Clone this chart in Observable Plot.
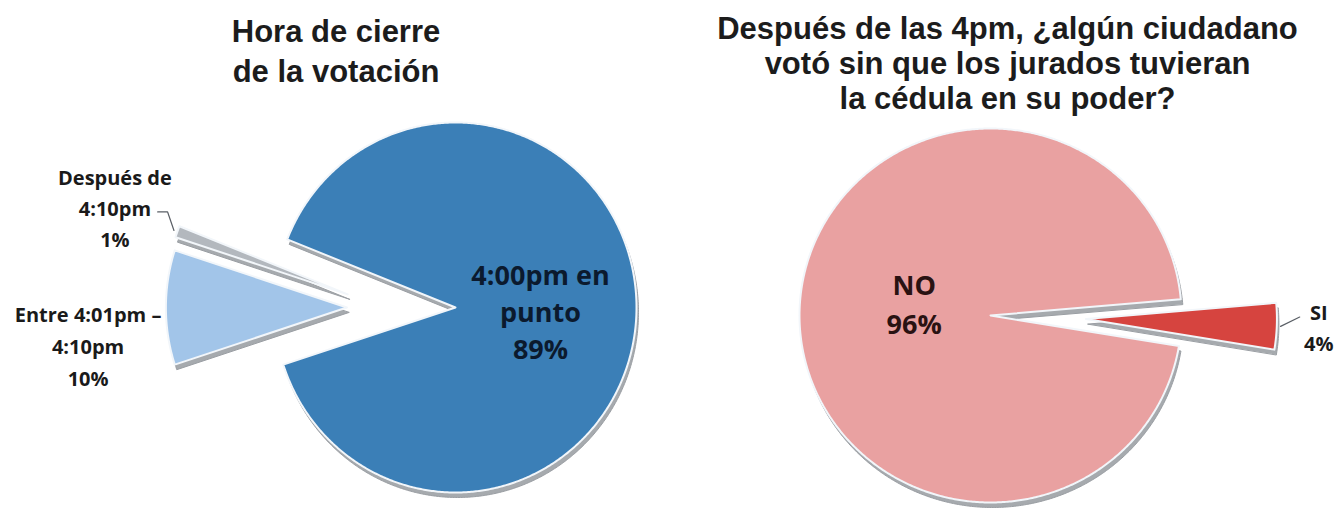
<!DOCTYPE html>
<html>
<head>
<meta charset="utf-8">
<script src="https://cdn.jsdelivr.net/npm/d3@7"></script>
<script src="https://cdn.jsdelivr.net/npm/@observablehq/plot@0.6"></script>
<style>
  html, body { margin: 0; padding: 0; background: #ffffff; }
  #wrap { display: flex; width: 1343px; height: 515px; overflow: hidden; }
  #wrap svg { display: block; }
</style>
</head>
<body>
<div id="wrap"></div>
<script>
// ---------- Data: chart 1 (clockwise order) ----------
const closingTitle = ["Hora de cierre", "de la votación"];
const closingCategories = ["4:00pm en punto", "Entre 4:01pm – 4:10pm", "Después de 4:10pm"];
const closingValues = [89, 10, 1];
const closingLabels = [["4:00pm en", "punto", "89%"], ["Entre 4:01pm –", "4:10pm", "10%"], ["Después de", "4:10pm", "1%"]];

// ---------- Data: chart 2 (clockwise order) ----------
const voteTitle = ["Después de las 4pm, ¿algún ciudadano", "votó sin que los jurados tuvieran", "la cédula en su poder?"];
const voteCategories = ["NO", "SI"];
const voteValues = [96, 4];
const voteLabels = [["NO", "96%"], ["SI", "4%"]];

// ---------- Layout / style ----------
const closingLayout = {
  width: 671, cx: 455, cy: 307, rx: 181, ry: 185, startDeg: -68.4,
  colors: ["#3b7fb7", "#a2c5e9", "#b3b8be"],
  explode: [0, 0.6, 0.6], explodeTurn: [0, 0, -13],
  labelR: [0.47, 2.03, 2.0], labelDy: [0, 36, 24],
  labelSize: [27, 20, 20], labelLine: [1.37, 1.6, 1.55],
  labelColor: ["#0b1a2e", "#1a1a1a", "#1a1a1a"],
  leader: [null, null, [[0, 0], [-0.035, 0.1], [-0.09, 0.1]]],
  titleSize: 31, titleDy: 13, titleLine: 1.29
};
const voteLayout = {
  width: 672, cx: 319, cy: 315, rx: 191, ry: 187, startDeg: 99.4,
  colors: ["#e9a1a1", "#d6443f"],
  explode: [0, 0.5], explodeTurn: [0, 0],
  labelR: [0.4, 1.72], labelDy: [-11, -2],
  labelSize: [27, 20], labelLine: [1.45, 1.55],
  labelColor: ["#2a1212", "#1a1a1a"],
  leader: [null, [[0, 0], [0.1, 0.05]]],
  titleSize: 31, titleDy: 14, titleLine: 1.13
};

function piePlot(title, categories, values, labels, L) {
  const rad = Math.PI / 180;
  const rows = categories.map((c, i) => ({category: c, value: values[i], i}));
  const arcs = d3.pie().sort(null).value(d => d.value)
    .startAngle(L.startDeg * rad).endAngle((L.startDeg + 360) * rad)(rows);

  const marks = [];
  const labelRows = [];
  const leaderPts = [];
  arcs.forEach(a => {
    const i = a.data.i;
    const mid = (a.startAngle + a.endAngle) / 2;
    const e = L.explode[i];
    const dir = mid + L.explodeTurn[i] * rad;
    const ox = e * Math.sin(dir), oy = e * Math.cos(dir);
    const n = Math.max(3, Math.ceil((a.endAngle - a.startAngle) / (0.5 * rad)));
    const pts = [{x: ox, y: oy}];
    for (let k = 0; k <= n; k++) {
      const t = a.startAngle + (a.endAngle - a.startAngle) * k / n;
      pts.push({x: ox + Math.sin(t), y: oy + Math.cos(t)});
    }
    // 3D-like edge shadow, then the slice itself
    marks.push(Plot.line(pts, {x: "x", y: "y", curve: "linear-closed", fill: "#a6aaae", stroke: "#9a9ea3", strokeWidth: 1, dx: 2, dy: 5}));
    marks.push(Plot.line(pts, {x: "x", y: "y", curve: "linear-closed", fill: L.colors[i], stroke: "#f2f6fa", strokeWidth: 2, strokeLinejoin: "round"}));
    const r = L.labelR[i];
    labelRows.push({x: r * Math.sin(mid), y: r * Math.cos(mid), text: labels[i].join("\n"), i});
    if (L.leader[i]) {
      const tx = ox + 1.02 * Math.sin(mid), ty = oy + 1.02 * Math.cos(mid);
      L.leader[i].forEach(([ddx, ddy]) => leaderPts.push({x: tx + ddx, y: ty + ddy, k: i}));
    }
  });

  marks.push(Plot.line(leaderPts, {x: "x", y: "y", z: "k", stroke: "#5a5f66", strokeWidth: 1.2}));
  labelRows.forEach(d => {
    marks.push(Plot.text([d], {
      x: "x", y: "y", text: "text", dy: L.labelDy[d.i],
      fontSize: L.labelSize[d.i], fontWeight: "bold", fill: L.labelColor[d.i],
      lineHeight: L.labelLine[d.i]
    }));
  });
  marks.push(Plot.text([title.join("\n")], {
    frameAnchor: "top", lineAnchor: "top", dy: L.titleDy, text: d => d,
    fontSize: L.titleSize, fontWeight: "bold", fill: "#1c1c1c", lineHeight: L.titleLine,
    fontFamily: "'Liberation Sans', Arial, sans-serif"
  }));

  return Plot.plot({
    width: L.width, height: 515, margin: 0,
    style: {fontFamily: "'Open Sans', Lato, sans-serif", background: "#ffffff", overflow: "visible"},
    x: {domain: [-L.cx / L.rx, (L.width - L.cx) / L.rx], axis: null},
    y: {domain: [-(515 - L.cy) / L.ry, L.cy / L.ry], axis: null},
    marks
  });
}

const wrap = document.getElementById("wrap");
wrap.append(piePlot(closingTitle, closingCategories, closingValues, closingLabels, closingLayout));
wrap.append(piePlot(voteTitle, voteCategories, voteValues, voteLabels, voteLayout));
</script>
</body>
</html>
